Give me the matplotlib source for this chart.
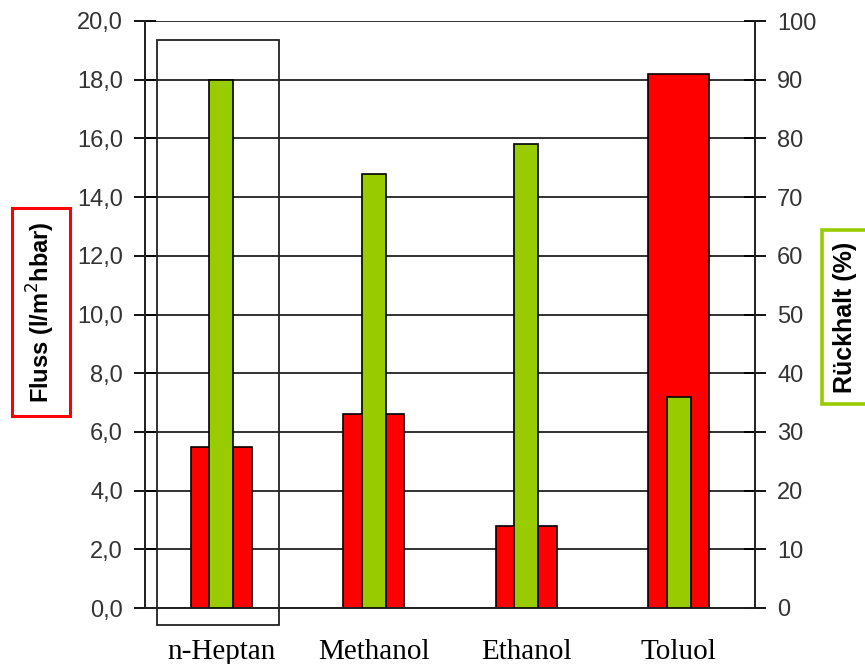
import numpy as np
import matplotlib.pyplot as plt
from matplotlib.patches import Rectangle

# data
solvents = ["n-Heptan", "Methanol", "Ethanol", "Toluol"]
flux = [5.5, 6.6, 2.8, 18.2]          # l/m2hbar, left axis
retention = [90, 74, 79, 36]         # %, right axis
flux_ticks = np.arange(0, 22, 2)
ret_ticks = np.arange(0, 110, 10)

red = "#FF0000"
green = "#99CC00"

fig = plt.figure(figsize=(8.65, 6.64), dpi=100)
ax = fig.add_axes([145 / 865, 56 / 664, 610 / 865, 587 / 664])
ax2 = ax.twinx()

ind = np.arange(len(solvents))

# wide red bars (flux) on the left axis
ax.bar(ind, flux, width=0.4, color=red, edgecolor="black", linewidth=1.2, zorder=3)
ax.set_xlim(-0.5, len(solvents) - 0.5)
ax.set_ylim(0, 20)
ax.set_yticks(flux_ticks)
ax.set_yticklabels([("%.1f" % t).replace(".", ",") for t in flux_ticks])
ax.yaxis.grid(True, color="#222222", linewidth=1.3)
ax.set_axisbelow(True)
ax.set_xticks(ind)
ax.set_xticklabels(solvents, family="Liberation Serif", fontsize=21)
ax.tick_params(axis="x", length=0, pad=22)
ax.tick_params(axis="y", direction="inout", length=16, width=1.3, pad=8,
               labelsize=17, labelcolor="#333333")
for lab in ax.get_yticklabels():
    lab.set_family("Liberation Sans")

# narrow green bars (retention) on the right axis
ax2.bar(ind, retention, width=0.16, color=green, edgecolor="black", linewidth=1.2, zorder=3)
ax2.set_ylim(0, 100)
ax2.set_yticks(ret_ticks)
ax2.tick_params(axis="y", direction="inout", length=16, width=1.3, pad=8,
                labelsize=17, labelcolor="#333333")
for lab in ax2.get_yticklabels():
    lab.set_family("Liberation Sans")

for a in (ax, ax2):
    a.spines["top"].set_visible(False)
    for side in ("left", "right", "bottom"):
        a.spines[side].set_linewidth(1.3)
        a.spines[side].set_color("#222222")

# highlight box around n-Heptan
ax.add_patch(Rectangle((ind[0] - 0.42, -0.58), 0.8, 19.93, fill=False,
                       edgecolor="#222222", linewidth=1.3, clip_on=False, zorder=4))

# boxed axis titles
fig.text(41 / 865, 1 - 312 / 664, "Fluss (l/m$^2$hbar)", rotation=90, ha="center", va="center",
         fontsize=17, fontweight="bold", family="Liberation Sans",
         bbox=dict(boxstyle="square,pad=0.55", facecolor="white", edgecolor=red, linewidth=2.2))
fig.text(845 / 865, 1 - 317 / 664, "Rückhalt (%)", rotation=90, ha="center", va="center",
         fontsize=18, fontweight="bold", family="Liberation Sans",
         bbox=dict(boxstyle="square,pad=0.45", facecolor="white", edgecolor=green, linewidth=2.6))

fig.savefig("out.png", dpi=100)
